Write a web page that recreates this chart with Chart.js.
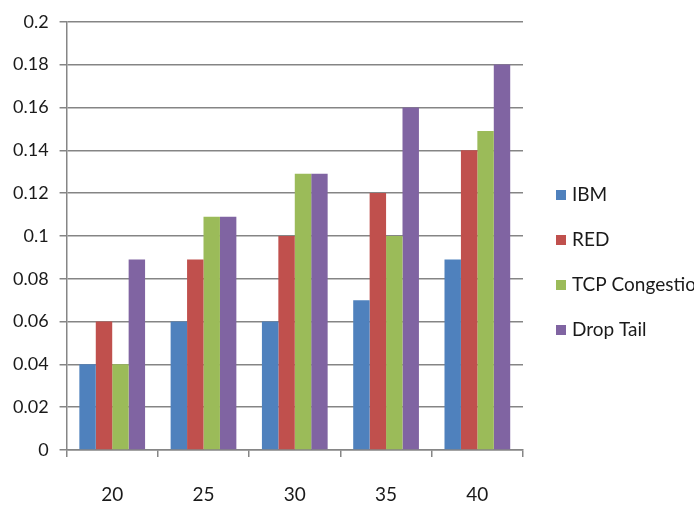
<!DOCTYPE html>
<html>
<head>
<meta charset="utf-8">
<script src="https://cdn.jsdelivr.net/npm/chart.js@4.4.0/dist/chart.umd.min.js"></script>
<style>
  html, body { margin: 0; padding: 0; background: #fff; }
  #wrap { width: 694px; height: 505px; position: relative; }
</style>
</head>
<body>
<div id="wrap"><canvas id="barChart"></canvas></div>
<script>
const categories = ['20', '25', '30', '35', '40'];
const ibm = [0.04, 0.06, 0.06, 0.07, 0.089];
const red = [0.06, 0.089, 0.10, 0.12, 0.14];
const tcp = [0.04, 0.109, 0.129, 0.10, 0.149];
const dropTail = [0.089, 0.109, 0.129, 0.16, 0.18];
const seriesNames = ['IBM', 'RED', 'TCP Congestion', 'Drop Tail'];
const seriesColors = ['#4F81BD', '#C0504D', '#9BBB59', '#8064A2'];

const fontFamily = 'Lato, "Open Sans", sans-serif';

// legend drawn by hand so the long label can run off the edge like the original
const sideLegend = {
    id: 'sideLegend',
    afterDraw(chart) {
        const ctx = chart.ctx;
        ctx.save();
        ctx.font = '19px ' + fontFamily;
        ctx.textBaseline = 'middle';
        chart.data.datasets.forEach((ds, i) => {
            const y = 195 + i * 45;
            ctx.fillStyle = ds.backgroundColor;
            ctx.fillRect(556, y - 5, 10, 10);
            ctx.fillStyle = '#1a1a1a';
            ctx.fillText(ds.label, 572, y);
        });
        ctx.restore();
    }
};

const ctx = document.getElementById('barChart').getContext('2d');

const datasets = [ibm, red, tcp, dropTail].map((vals, i) => ({
    label: seriesNames[i],
    data: vals,
    backgroundColor: seriesColors[i],
    borderWidth: 0,
    barPercentage: 1.0,
    categoryPercentage: 0.72
}));

const myChart = new Chart(ctx, {
    type: 'bar',
    data: {
        labels: categories,
        datasets: datasets
    },
    options: {
        responsive: true,
        maintainAspectRatio: false,
        animation: false,
        layout: {
            padding: { top: 12, right: 171, left: 2, bottom: 0 }
        },
        plugins: {
            legend: { display: false },
            tooltip: { enabled: false }
        },
        scales: {
            x: {
                grid: {
                    display: true,
                    offset: true,
                    drawOnChartArea: false,
                    drawTicks: true,
                    tickLength: 7,
                    color: '#868686',
                    lineWidth: 1.5
                },
                border: { color: '#868686', width: 1.5 },
                ticks: {
                    color: '#1a1a1a',
                    padding: 26,
                    font: { family: fontFamily, size: 19 }
                },
                // labels sit far below the axis, but keep the plot tall
                afterFit: (scale) => { scale.height = 55; }
            },
            y: {
                min: 0,
                max: 0.2,
                grid: {
                    color: '#858585',
                    lineWidth: 1.5,
                    tickLength: 7
                },
                border: { color: '#868686', width: 1.5 },
                ticks: {
                    stepSize: 0.02,
                    color: '#1a1a1a',
                    padding: 11,
                    font: { family: fontFamily, size: 18 },
                    callback: (v) => parseFloat(v.toFixed(2)).toString()
                }
            }
        }
    },
    plugins: [sideLegend]
});
</script>
</body>
</html>
